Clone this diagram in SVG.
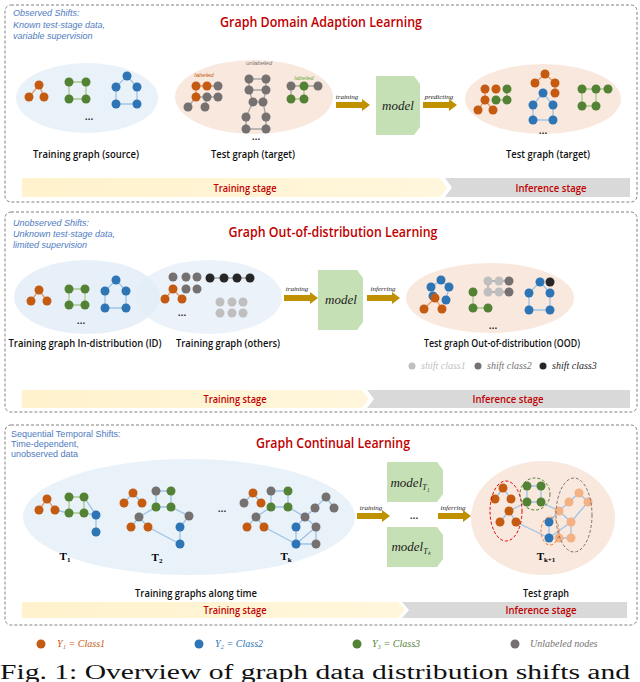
<svg xmlns="http://www.w3.org/2000/svg" width="640" height="682" viewBox="0 0 640 682">
<style>
.panel{fill:#fff;stroke:#808080;stroke-width:1;stroke-dasharray:3 2}
.title{font-family:"Open Sans","Liberation Sans",sans-serif;font-weight:600;font-size:14px;fill:#c00000;text-anchor:middle}
.sub{font-family:"Liberation Sans",sans-serif;font-style:italic;font-size:9px;fill:#4f7bc0}
.sub2{font-family:"Liberation Sans",sans-serif;font-size:9px;fill:#4f7bc0}
.lbl{font-family:"Open Sans","Liberation Sans",sans-serif;font-weight:600;font-size:10.5px;fill:#111;text-anchor:middle}
.stage{font-family:"Open Sans","Liberation Sans",sans-serif;font-weight:600;font-size:10.5px;fill:#c00000;text-anchor:middle}
.arrlbl{font-family:"Liberation Serif",serif;font-style:italic;font-size:7px;fill:#222;text-anchor:middle}
.mdl{font-family:"Liberation Serif",serif;font-style:italic;font-size:13px;fill:#222;text-anchor:middle}
.tiny{font-family:"Liberation Sans",sans-serif;font-style:italic;font-size:6px;text-anchor:middle}
.leg{font-family:"Liberation Serif",serif;font-style:italic;font-size:10px}
.o{fill:#c55a11}.g{fill:#548235}.b{fill:#2e75b6}.u{fill:#767171}.l{fill:#bfbfbf}.k{fill:#262626}.p{fill:#f4b183}
.eo{stroke:#e39a70;stroke-width:1.3;fill:none}.eg{stroke:#a9c98e;stroke-width:1.3;fill:none}.eb{stroke:#9dc3e6;stroke-width:1.3;fill:none}.eu{stroke:#a5a5a5;stroke-width:1.3;fill:none}
.box{fill:#c5e0b4}
.arr{fill:#bf9000}
.tb{fill:#fff2cc}.ib{fill:#d9d9d9}
</style>
<defs>
<linearGradient id="tg" x1="0" x2="1"><stop offset="0" stop-color="#fff2cc"/><stop offset="1" stop-color="#fff6dc"/></linearGradient>
</defs>

<g id="panel1">
<rect class="panel" x="5" y="5" width="632" height="197" rx="6"/>
<text class="title" x="321" y="27" textLength="202" lengthAdjust="spacingAndGlyphs">Graph Domain Adaption Learning</text>
<text class="sub" x="13" y="16">Observed Shifts:</text>
<text class="sub" x="13" y="28">Known test-stage data,</text>
<text class="sub" x="13" y="39">variable supervision</text>
<ellipse cx="87" cy="98" rx="71" ry="35" fill="#e9f1f9"/>
<ellipse cx="254" cy="97" rx="79" ry="37" fill="#f9e8de"/>
<ellipse cx="543" cy="99" rx="78" ry="35" fill="#f9e8de"/>
<path class="eo" d="M39 85L29 97M39 85L44 97"/>
<path class="eg" d="M69 82H86V99H69Z"/>
<path class="eb" d="M127 76L116 87V104H137V87Z"/>
<circle class="o" cx="39" cy="85" r="4.5"/><circle class="o" cx="29" cy="97" r="4.5"/><circle class="o" cx="44" cy="97" r="4.5"/>
<circle class="g" cx="69" cy="82" r="4.5"/><circle class="g" cx="86" cy="82" r="4.5"/><circle class="g" cx="69" cy="99" r="4.5"/><circle class="g" cx="86" cy="99" r="4.5"/>
<circle class="b" cx="127" cy="76" r="4.5"/><circle class="b" cx="116" cy="87" r="4.5"/><circle class="b" cx="137" cy="87" r="4.5"/><circle class="b" cx="116" cy="104" r="4.5"/><circle class="b" cx="137" cy="104" r="4.5"/>
<text class="lbl" x="89" y="120">…</text>
<text class="tiny" x="204" y="77" fill="#c55a11">labeled</text>
<text class="tiny" x="259" y="65" fill="#767171">unlabeled</text>
<text class="tiny" x="304" y="80" fill="#70ad47">labeled</text>
<path class="eo" d="M196 86H207M196 86V97"/>
<path class="eu" d="M207 86H218M196 97L188 107M196 97H207H218M207 97L205 107"/>
<path class="eu" d="M249 79H266V90H249ZM249 90L253 102L263 102L266 90M253 102L246 117M263 102L266 117M246 117V129H266V117"/>
<path class="eu" d="M291 86H304H318M291 86V99"/>
<path class="eg" d="M304 86V99M291 99H304"/>
<circle class="o" cx="196" cy="86" r="4.5"/><circle class="o" cx="207" cy="86" r="4.5"/><circle class="u" cx="218" cy="86" r="4.5"/>
<circle class="o" cx="196" cy="97" r="4.5"/><circle class="u" cx="207" cy="97" r="4.5"/><circle class="u" cx="218" cy="97" r="4.5"/>
<circle class="u" cx="188" cy="107" r="4.5"/><circle class="u" cx="205" cy="107" r="4.5"/>
<circle class="u" cx="249" cy="79" r="4.5"/><circle class="u" cx="266" cy="79" r="4.5"/><circle class="u" cx="249" cy="90" r="4.5"/><circle class="u" cx="266" cy="90" r="4.5"/>
<circle class="u" cx="253" cy="102" r="4.5"/><circle class="u" cx="263" cy="102" r="4.5"/>
<circle class="u" cx="246" cy="117" r="4.5"/><circle class="u" cx="266" cy="117" r="4.5"/><circle class="u" cx="246" cy="129" r="4.5"/><circle class="u" cx="266" cy="129" r="4.5"/>
<circle class="u" cx="291" cy="86" r="4.5"/><circle class="g" cx="304" cy="86" r="4.5"/><circle class="u" cx="318" cy="86" r="4.5"/>
<circle class="g" cx="291" cy="99" r="4.5"/><circle class="g" cx="304" cy="99" r="4.5"/>
<text class="lbl" x="256" y="140">…</text>
<text class="arrlbl" x="347" y="99">training</text>
<polygon class="arr" points="336,102 362,102 362,99 370,105 362,111 362,108 336,108"/>
<polygon class="box" points="376,76 414,76 420,84 420,127 414,135 376,135"/>
<text class="mdl" x="398" y="110">model</text>
<text class="arrlbl" x="439" y="99">predicting</text>
<polygon class="arr" points="423,102 449,102 449,99 457,105 449,111 449,108 423,108"/>
<path class="eo" d="M485 100L478 110M485 100L493 110M485 89V100"/>
<path class="eg" d="M496 100H507V89"/>
<path class="eo" d="M545 74L535 83M545 74L555 83V93"/>
<path class="eb" d="M543 93L533 105V120H553V105Z"/>
<path class="eg" d="M582 89H596H608M582 89V106H596V89"/>
<circle class="o" cx="485" cy="89" r="4.5"/><circle class="o" cx="496" cy="89" r="4.5"/><circle class="g" cx="507" cy="89" r="4.5"/>
<circle class="o" cx="485" cy="100" r="4.5"/><circle class="g" cx="496" cy="100" r="4.5"/><circle class="g" cx="507" cy="100" r="4.5"/>
<circle class="o" cx="478" cy="110" r="4.5"/><circle class="o" cx="493" cy="110" r="4.5"/>
<circle class="o" cx="545" cy="74" r="4.5"/><circle class="o" cx="535" cy="83" r="4.5"/><circle class="o" cx="555" cy="83" r="4.5"/><circle class="o" cx="555" cy="93" r="4.5"/>
<circle class="b" cx="543" cy="93" r="4.5"/><circle class="b" cx="533" cy="105" r="4.5"/><circle class="b" cx="553" cy="105" r="4.5"/><circle class="b" cx="533" cy="120" r="4.5"/><circle class="b" cx="553" cy="120" r="4.5"/>
<circle class="g" cx="582" cy="89" r="4.5"/><circle class="g" cx="596" cy="89" r="4.5"/><circle class="g" cx="608" cy="89" r="4.5"/><circle class="g" cx="582" cy="106" r="4.5"/><circle class="g" cx="596" cy="106" r="4.5"/>
<text class="lbl" x="543" y="134">…</text>
<text class="lbl" x="86" y="158" textLength="106" lengthAdjust="spacingAndGlyphs">Training graph (source)</text>
<text class="lbl" x="253" y="158" textLength="84" lengthAdjust="spacingAndGlyphs">Test graph (target)</text>
<text class="lbl" x="548" y="158" textLength="84" lengthAdjust="spacingAndGlyphs">Test graph (target)</text>
<polygon fill="url(#tg)" points="22,178 440,178 447,187.5 440,197 22,197"/>
<polygon class="ib" points="445,178 630,178 630,197 445,197 452,187.5"/>
<text class="stage" x="245" y="192" textLength="63" lengthAdjust="spacingAndGlyphs">Training stage</text>
<text class="stage" x="551" y="192" textLength="71" lengthAdjust="spacingAndGlyphs">Inference stage</text>
</g>

<g id="panel2">
<rect class="panel" x="5" y="212" width="632" height="200" rx="6"/>
<text class="title" x="333" y="237" textLength="209" lengthAdjust="spacingAndGlyphs">Graph Out-of-distribution Learning</text>
<text class="sub" x="13" y="226">Unobserved Shifts:</text>
<text class="sub" x="13" y="237">Unknown test-stage data,</text>
<text class="sub" x="13" y="248">limited supervision</text>
<ellipse cx="87" cy="297" rx="73" ry="37" fill="#e3edf7" fill-opacity="0.85"/>
<ellipse cx="209" cy="297" rx="73" ry="37" fill="#e3edf7" fill-opacity="0.7"/>
<ellipse cx="490" cy="298" rx="84" ry="35" fill="#f9e8de"/>
<path class="eo" d="M39 290L31 301M39 290L47 301"/>
<path class="eg" d="M69 289H85V305H69Z"/>
<path class="eb" d="M116 280L105 291V308H126V291Z"/>
<circle class="o" cx="39" cy="290" r="4.5"/><circle class="o" cx="31" cy="301" r="4.5"/><circle class="o" cx="47" cy="301" r="4.5"/>
<circle class="g" cx="69" cy="289" r="4.5"/><circle class="g" cx="85" cy="289" r="4.5"/><circle class="g" cx="69" cy="305" r="4.5"/><circle class="g" cx="85" cy="305" r="4.5"/>
<circle class="b" cx="116" cy="280" r="4.5"/><circle class="b" cx="105" cy="291" r="4.5"/><circle class="b" cx="126" cy="291" r="4.5"/><circle class="b" cx="105" cy="308" r="4.5"/><circle class="b" cx="126" cy="308" r="4.5"/>
<text class="lbl" x="81" y="324">…</text>
<path class="eo" d="M173 289L165 299M173 289L182 299"/>
<path class="eu" d="M210 278H250"/>
<circle class="u" cx="173" cy="277" r="4.5"/><circle class="u" cx="186" cy="277" r="4.5"/><circle class="u" cx="197" cy="277" r="4.5"/><circle class="u" cx="186" cy="289" r="4.5"/><circle class="u" cx="197" cy="289" r="4.5"/>
<circle class="o" cx="173" cy="289" r="4.5"/><circle class="o" cx="165" cy="299" r="4.5"/><circle class="o" cx="182" cy="299" r="4.5"/>
<circle class="k" cx="210" cy="278" r="4.5"/><circle class="k" cx="224" cy="278" r="4.5"/><circle class="k" cx="237" cy="278" r="4.5"/><circle class="k" cx="250" cy="278" r="4.5"/>
<circle class="l" cx="220" cy="302" r="4.5"/><circle class="l" cx="232" cy="302" r="4.5"/><circle class="l" cx="243" cy="302" r="4.5"/><circle class="l" cx="220" cy="313" r="4.5"/><circle class="l" cx="232" cy="313" r="4.5"/><circle class="l" cx="243" cy="313" r="4.5"/>
<text class="lbl" x="182" y="316">…</text>
<text class="arrlbl" x="297" y="291">training</text>
<polygon class="arr" points="284,295 310,295 310,292 318,298 310,304 310,301 284,301"/>
<polygon class="box" points="318,270 357,270 363,278 363,322 357,330 318,330"/>
<text class="mdl" x="341" y="304">model</text>
<text class="arrlbl" x="383" y="291">inferring</text>
<polygon class="arr" points="367,295 392,295 392,292 400,298 392,304 392,301 367,301"/>
<path class="eb" d="M441 280L431 287L433 296M441 280L449 287L446 300"/>
<path class="eo" d="M435 298L424 309M435 298L442 309"/>
<path class="eg" d="M473 292V308H488"/>
<path class="eu" d="M488 281H509M488 292H509M488 281V292"/>
<path class="eb" d="M540 282L529 293V310H550V293L540 282"/>
<circle class="b" cx="441" cy="280" r="4.5"/><circle class="b" cx="431" cy="287" r="4.5"/><circle class="b" cx="449" cy="287" r="4.5"/><circle class="b" cx="433" cy="296" r="4.5"/><circle class="b" cx="446" cy="300" r="4.5"/>
<circle class="o" cx="435" cy="298" r="4.5"/><circle class="o" cx="424" cy="309" r="4.5"/><circle class="o" cx="442" cy="309" r="4.5"/>
<circle class="l" cx="488" cy="281" r="4.5"/><circle class="l" cx="499" cy="281" r="4.5"/><circle class="u" cx="509" cy="281" r="4.5"/>
<circle class="g" cx="473" cy="292" r="4.5"/><circle class="l" cx="488" cy="292" r="4.5"/><circle class="l" cx="499" cy="292" r="4.5"/><circle class="u" cx="509" cy="292" r="4.5"/>
<circle class="g" cx="473" cy="308" r="4.5"/><circle class="g" cx="488" cy="308" r="4.5"/>
<circle class="b" cx="540" cy="282" r="4.5"/><circle class="k" cx="550" cy="282" r="4.5"/><circle class="b" cx="529" cy="293" r="4.5"/><circle class="b" cx="550" cy="293" r="4.5"/><circle class="b" cx="529" cy="310" r="4.5"/><circle class="b" cx="550" cy="310" r="4.5"/>
<text class="lbl" x="493" y="329">…</text>
<text class="lbl" x="85" y="347" textLength="153" lengthAdjust="spacingAndGlyphs">Training graph In-distribution (ID)</text>
<text class="lbl" x="228" y="347" textLength="104" lengthAdjust="spacingAndGlyphs">Training graph (others)</text>
<text class="lbl" x="502" y="347" textLength="156" lengthAdjust="spacingAndGlyphs">Test graph Out-of-distribution (OOD)</text>
<circle class="l" cx="412" cy="366" r="3.5"/><text class="leg" x="421" y="369" fill="#bfbfbf">shift class1</text>
<circle class="u" cx="478" cy="366" r="3.5"/><text class="leg" x="487" y="369" fill="#767171">shift class2</text>
<circle class="k" cx="543" cy="366" r="3.5"/><text class="leg" x="552" y="369" fill="#262626">shift class3</text>
<polygon fill="url(#tg)" points="22,390 362,390 369,399 362,408 22,408"/>
<polygon class="ib" points="367,390 630,390 630,408 367,408 374,399"/>
<text class="stage" x="235" y="403" textLength="63" lengthAdjust="spacingAndGlyphs">Training stage</text>
<text class="stage" x="508" y="403" textLength="71" lengthAdjust="spacingAndGlyphs">Inference stage</text>
</g>

<g id="panel3">
<rect class="panel" x="5" y="425" width="632" height="200" rx="6"/>
<text class="title" x="333" y="448" textLength="154" lengthAdjust="spacingAndGlyphs">Graph Continual Learning</text>
<text class="sub2" x="11" y="437">Sequential Temporal Shifts:</text>
<text class="sub2" x="11" y="447">Time-dependent,</text>
<text class="sub2" x="11" y="457">unobserved data</text>
<ellipse cx="189" cy="517" rx="166" ry="58" fill="#e9f1f9"/>
<ellipse cx="543" cy="518" rx="72" ry="57" fill="#f9e8de"/>
<path class="eo" d="M47 499L39 510M47 499L55 510"/>
<path class="eb" d="M55 510L69 513M84 497L96 515M84 513L96 515V532"/>
<path class="eg" d="M69 497H84V513H69Z"/>
<circle class="o" cx="47" cy="499" r="4.5"/><circle class="o" cx="39" cy="510" r="4.5"/><circle class="o" cx="55" cy="510" r="4.5"/>
<circle class="g" cx="69" cy="497" r="4.5"/><circle class="g" cx="84" cy="497" r="4.5"/><circle class="g" cx="69" cy="513" r="4.5"/><circle class="g" cx="84" cy="513" r="4.5"/>
<circle class="b" cx="96" cy="515" r="4.5"/><circle class="b" cx="96" cy="532" r="4.5"/>
<path class="eb" d="M133 493L124 503M133 493L142 503M156 491H171V507H156ZM156 507L139 517L131 527M139 517L148 527M171 507L189 516L180 527V544M148 527L180 544"/>
<circle class="o" cx="133" cy="493" r="4.5"/><circle class="o" cx="124" cy="503" r="4.5"/><circle class="o" cx="142" cy="503" r="4.5"/>
<circle class="u" cx="156" cy="491" r="4.5"/><circle class="g" cx="171" cy="491" r="4.5"/><circle class="g" cx="156" cy="507" r="4.5"/><circle class="g" cx="171" cy="507" r="4.5"/>
<circle class="u" cx="139" cy="517" r="4.5"/><circle class="o" cx="131" cy="527" r="4.5"/><circle class="o" cx="148" cy="527" r="4.5"/>
<circle class="u" cx="189" cy="516" r="4.5"/><circle class="b" cx="180" cy="527" r="4.5"/><circle class="b" cx="180" cy="544" r="4.5"/>
<path class="eb" d="M253 493L244 503M253 493L261 503M271 491H288V507H271ZM271 507L256 517L247 527M256 517L264 527M288 507L305 517L296 527V544M305 517L315 508L326 497L334 508M305 517L316 527V544M296 544H316M264 527L296 544M296 544L316 527"/>
<circle class="o" cx="253" cy="493" r="4.5"/><circle class="u" cx="244" cy="503" r="4.5"/><circle class="o" cx="261" cy="503" r="4.5"/>
<circle class="u" cx="271" cy="491" r="4.5"/><circle class="g" cx="288" cy="491" r="4.5"/><circle class="g" cx="271" cy="507" r="4.5"/><circle class="g" cx="288" cy="507" r="4.5"/>
<circle class="u" cx="326" cy="497" r="4.5"/><circle class="u" cx="315" cy="508" r="4.5"/><circle class="u" cx="334" cy="508" r="4.5"/>
<circle class="u" cx="256" cy="517" r="4.5"/><circle class="u" cx="305" cy="517" r="4.5"/>
<circle class="o" cx="247" cy="527" r="4.5"/><circle class="o" cx="264" cy="527" r="4.5"/>
<circle class="b" cx="296" cy="527" r="4.5"/><circle class="b" cx="296" cy="544" r="4.5"/><circle class="u" cx="316" cy="527" r="4.5"/><circle class="u" cx="316" cy="544" r="4.5"/>
<text class="lbl" x="222" y="512">…</text>
<text x="65" y="560" font-family="Liberation Serif,serif" font-weight="bold" font-size="11" text-anchor="middle">T<tspan font-size="7" dy="2">1</tspan></text>
<text x="157" y="561" font-family="Liberation Serif,serif" font-weight="bold" font-size="11" text-anchor="middle">T<tspan font-size="7" dy="2">2</tspan></text>
<text x="286" y="560" font-family="Liberation Serif,serif" font-weight="bold" font-size="11" text-anchor="middle">T<tspan font-size="7" dy="2">k</tspan></text>
<text class="arrlbl" x="371" y="510">training</text>
<polygon class="arr" points="357,513 382,513 382,510 390,516 382,522 382,519 357,519"/>
<polygon class="box" points="387,462 437,462 443,470 443,494 437,502 387,502"/>
<text class="mdl" x="410" y="487">model<tspan font-size="8" dy="3">T₁</tspan></text>
<text class="lbl" x="414" y="519">…</text>
<polygon class="box" points="387,527 437,527 443,535 443,559 437,567 387,567"/>
<text class="mdl" x="411" y="551">model<tspan font-size="8" dy="3">Tₖ</tspan></text>
<text class="arrlbl" x="453" y="510">inferring</text>
<polygon class="arr" points="438,513 463,513 463,510 471,516 463,522 463,519 438,519"/>
<path class="eb" d="M503 488L495 499M503 488L511 499M509 511L500 522M509 511L516 522M527 486H541V502H527ZM509 511L527 502M541 502L559 511M516 522L549 538M579 493L569 502M579 493L588 502M569 502L559 511M559 511L571 522L588 502M559 511L549 522V538M571 522V538M571 538L559 538M549 538L571 522"/>
<circle class="o" cx="503" cy="488" r="4.5"/><circle class="o" cx="495" cy="499" r="4.5"/><circle class="o" cx="511" cy="499" r="4.5"/>
<circle class="o" cx="509" cy="511" r="4.5"/><circle class="o" cx="500" cy="522" r="4.5"/><circle class="o" cx="516" cy="522" r="4.5"/>
<circle class="g" cx="527" cy="486" r="4.5"/><circle class="g" cx="541" cy="486" r="4.5"/><circle class="g" cx="527" cy="502" r="4.5"/><circle class="g" cx="541" cy="502" r="4.5"/>
<circle class="p" cx="579" cy="493" r="4.5"/><circle class="p" cx="569" cy="502" r="4.5"/><circle class="p" cx="588" cy="502" r="4.5"/><circle class="p" cx="559" cy="511" r="4.5"/><circle class="p" cx="571" cy="522" r="4.5"/><circle class="p" cx="559" cy="538" r="4.5"/><circle class="p" cx="571" cy="538" r="4.5"/>
<circle class="b" cx="549" cy="522" r="4.5"/><circle class="b" cx="549" cy="538" r="4.5"/>
<ellipse cx="506" cy="511" rx="16" ry="30" fill="none" stroke="#e00000" stroke-width="1" stroke-dasharray="3 2"/>
<ellipse cx="535" cy="494" rx="15" ry="16" fill="none" stroke="#548235" stroke-width="1" stroke-dasharray="3 2"/>
<ellipse cx="574" cy="515" rx="18" ry="37" fill="none" stroke="#767171" stroke-width="1" stroke-dasharray="3 2"/>
<ellipse cx="550" cy="531" rx="9" ry="14" fill="none" stroke="#ed7d31" stroke-width="1" stroke-dasharray="3 2"/>
<text x="546" y="560" font-family="Liberation Serif,serif" font-weight="bold" font-size="11" text-anchor="middle">T<tspan font-size="7" dy="2">k+1</tspan></text>
<text class="lbl" x="196" y="597" textLength="122" lengthAdjust="spacingAndGlyphs">Training graphs along time</text>
<text class="lbl" x="546" y="597" textLength="46" lengthAdjust="spacingAndGlyphs">Test graph</text>
<polygon fill="url(#tg)" points="22,602 398,602 405,610 398,618 22,618"/>
<polygon class="ib" points="402,602 627,602 627,618 402,618 409,610"/>
<text class="stage" x="235" y="614" textLength="63" lengthAdjust="spacingAndGlyphs">Training stage</text>
<text class="stage" x="541" y="614" textLength="71" lengthAdjust="spacingAndGlyphs">Inference stage</text>
</g>

<g id="legend">
<circle class="o" cx="41" cy="644" r="4.5"/><text class="leg" x="57" y="647" fill="#c55a11">Y₁ = Class1</text>
<circle class="b" cx="199" cy="644" r="4.5"/><text class="leg" x="215" y="647" fill="#2e75b6">Y₂ = Class2</text>
<circle class="g" cx="357" cy="644" r="4.5"/><text class="leg" x="372" y="647" fill="#548235">Y₃ = Class3</text>
<circle class="u" cx="515" cy="644" r="4.5"/><text class="leg" x="530" y="647" fill="#767171">Unlabeled nodes</text>
</g>
<text x="0" y="679" font-family="Liberation Serif,serif" font-size="20" fill="#111" textLength="630" lengthAdjust="spacingAndGlyphs">Fig. 1: Overview of graph data distribution shifts and</text>
</svg>
